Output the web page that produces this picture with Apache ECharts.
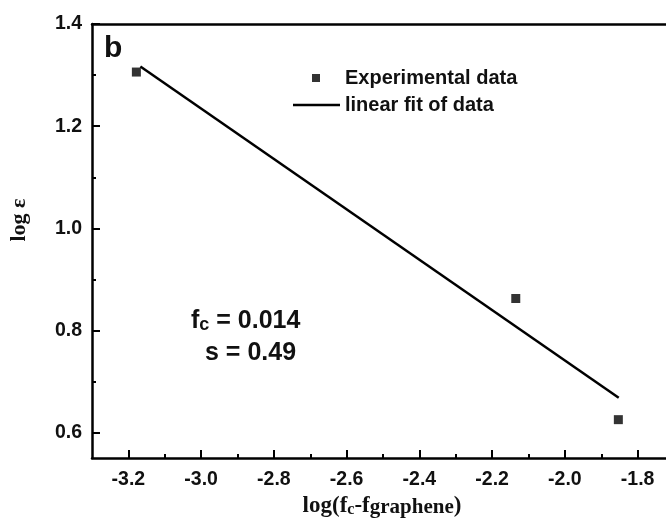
<!DOCTYPE html>
<html>
<head>
<meta charset="utf-8">
<script src="https://cdn.jsdelivr.net/npm/echarts@6/dist/echarts.min.js"></script>
<style>html,body{margin:0;padding:0;background:#fff}#c{width:666px;height:518px}</style>
</head>
<body>
<div id="c"></div>
<script>
// Data
const xExp = [-3.178, -2.135, -1.853];
const yExp = [1.306, 0.863, 0.626];
const xFit = [-3.167, -1.852];
const yFit = [1.317, 0.669];
const xMajorTicks = [-3.2, -3.0, -2.8, -2.6, -2.4, -2.2, -2.0, -1.8];
const xMinorTicks = [-3.1, -2.9, -2.7, -2.5, -2.3, -2.1, -1.9];
const yMajorTicks = [0.6, 0.8, 1.0, 1.2, 1.4];
const yMinorTicks = [0.7, 0.9, 1.1, 1.3];
const seriesNames = ['Experimental data', 'linear fit of data'];
const annotation = ['f', 'c', ' = 0.014', 's = 0.49'];

const X_MIN = -3.3, X_MAX = -1.722, Y_MIN = 0.551, Y_MAX = 1.4;
const SANS = '"Liberation Sans", Arial, sans-serif';
const SERIF = '"Liberation Serif", "Times New Roman", serif';
const axisLine = { show: true, lineStyle: { color: '#000', width: 2.5 } };
const labelStyle = { color: '#111', fontFamily: SANS, fontWeight: 'bold', fontSize: 19.5 };
const legendText = { fontFamily: SANS, fontWeight: 'bold', fontSize: 20, color: '#111', lineHeight: 18 };

const chart = echarts.init(document.getElementById('c'), null, { renderer: 'canvas' });
chart.setOption({
  backgroundColor: '#fff',
  animation: false,
  grid: { left: 92, top: 24, right: 0, bottom: 60, containLabel: false, outerBoundsMode: 'none' },
  xAxis: [
    {
      type: 'value', min: X_MIN, max: X_MAX, position: 'bottom',
      axisLine: axisLine,
      axisTick: { show: true, inside: true, length: 8, customValues: xMajorTicks, lineStyle: { color: '#000', width: 2 } },
      axisLabel: Object.assign({ customValues: xMajorTicks, margin: 12, formatter: v => v.toFixed(1) }, labelStyle),
      splitLine: { show: false },
      name: '{a|log(f}{c|c}{a|-f}{g|graphene}{a|)}',
      nameLocation: 'middle', nameGap: 31,
      nameTextStyle: {
        padding: [0, 0, 0, 6],
        rich: {
          a: { fontFamily: SERIF, fontWeight: 'bold', fontSize: 23, color: '#111', verticalAlign: 'bottom' },
          c: { fontFamily: SERIF, fontWeight: 'bold', fontSize: 16, color: '#111', verticalAlign: 'bottom' },
          g: { fontFamily: SERIF, fontWeight: 'bold', fontSize: 21, color: '#111', verticalAlign: 'bottom' }
        }
      }
    },
    {
      type: 'value', min: X_MIN, max: X_MAX, position: 'bottom',
      axisLine: { show: false },
      axisTick: { show: true, inside: true, length: 4, customValues: xMinorTicks, lineStyle: { color: '#000', width: 2 } },
      axisLabel: { show: false }, splitLine: { show: false }
    },
    {
      type: 'value', min: X_MIN, max: X_MAX, position: 'top',
      axisLine: axisLine, axisTick: { show: false }, axisLabel: { show: false }, splitLine: { show: false }
    }
  ],
  yAxis: [
    {
      type: 'value', min: Y_MIN, max: Y_MAX, position: 'left',
      axisLine: axisLine,
      axisTick: { show: true, inside: true, length: 8, customValues: yMajorTicks, lineStyle: { color: '#000', width: 2 } },
      axisLabel: Object.assign({ customValues: yMajorTicks, margin: 10, formatter: v => v.toFixed(1) }, labelStyle),
      splitLine: { show: false },
      name: 'log ε', nameLocation: 'middle', nameRotate: 90, nameGap: 62,
      nameTextStyle: { fontFamily: SERIF, fontWeight: 'bold', fontSize: 22, color: '#111', padding: [0, 0, 0, 42] }
    },
    {
      type: 'value', min: Y_MIN, max: Y_MAX, position: 'left',
      axisLine: { show: false },
      axisTick: { show: true, inside: true, length: 4, customValues: yMinorTicks, lineStyle: { color: '#000', width: 2 } },
      axisLabel: { show: false }, splitLine: { show: false }
    }
  ],
  legend: [
    {
      orient: 'vertical', left: 307, top: 63, itemWidth: 8, itemHeight: 8,
      data: [{ name: seriesNames[0], icon: 'rect' }],
      textStyle: Object.assign({ padding: [0, 0, 0, 20] }, legendText),
      selectedMode: false
    },
    {
      orient: 'vertical', left: 288, top: 90, itemWidth: 47, itemHeight: 2.5,
      data: [{ name: seriesNames[1], icon: 'rect' }],
      textStyle: legendText,
      selectedMode: false
    }
  ],
  graphic: [
    { type: 'text', left: 104, top: 34, style: { text: 'b', font: 'bold 30px ' + SANS, fill: '#111' } },
    { type: 'text', left: 191, top: 309, style: {
        text: '{a|' + annotation[0] + '}{c|' + annotation[1] + '}{a|' + annotation[2] + '}',
        rich: {
          a: { font: 'bold 25px ' + SANS, fill: '#111', verticalAlign: 'bottom' },
          c: { font: 'bold 18px ' + SANS, fill: '#111', verticalAlign: 'bottom' }
        }
      } },
    { type: 'text', left: 205, top: 341, style: { text: annotation[3], font: 'bold 25px ' + SANS, fill: '#111' } }
  ],
  series: [
    {
      name: seriesNames[0], type: 'scatter', xAxisIndex: 0, yAxisIndex: 0,
      symbol: 'rect', symbolSize: 9,
      itemStyle: { color: '#000' },
      data: xExp.map((x, i) => [x, yExp[i]]),
      z: 3
    },
    {
      name: seriesNames[1], type: 'line', xAxisIndex: 0, yAxisIndex: 0,
      symbol: 'none', lineStyle: { color: '#000', width: 2.5 },
      itemStyle: { color: '#000' },
      data: xFit.map((x, i) => [x, yFit[i]]),
      z: 2
    }
  ]
});
</script>
</body>
</html>
